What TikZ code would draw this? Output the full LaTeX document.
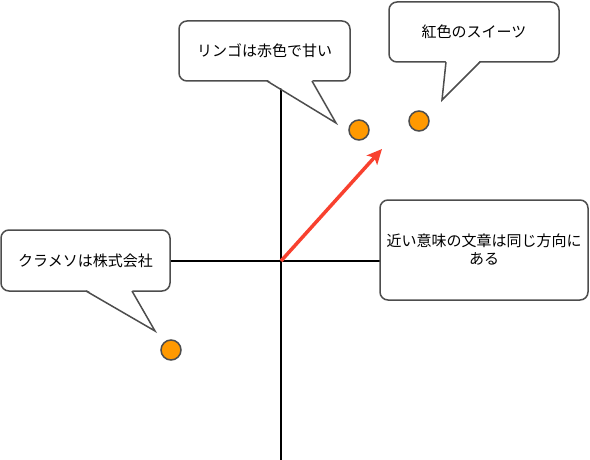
\documentclass[tikz,border=0pt]{standalone}
\usepackage{fontspec}
\setmainfont{Noto Sans CJK JP}
\usetikzlibrary{arrows.meta}
\definecolor{dotorange}{HTML}{FF9900}
\definecolor{vecred}{HTML}{F8412F}
\definecolor{edgegray}{HTML}{4D4D4D}
\tikzset{
  bubble/.style={draw=edgegray, line width=1.5pt, fill=white, rounded corners=8pt,
    align=center, inner sep=0pt, font=\fontsize{15}{18}\selectfont},
  tailfill/.style={fill=white},
  tailline/.style={draw=edgegray, line width=1.5pt},
  dot/.style={circle, draw=edgegray, fill=dotorange, line width=1.5pt,
    minimum size=20pt, inner sep=0pt},
  axis/.style={line width=2pt, black},
  vec/.style={vecred, line width=3.5pt, -{Stealth[length=15pt, width=14pt, inset=3.5pt]}}
}

\begin{document}
\begin{tikzpicture}[x=1pt, y=-1pt]
    \useasboundingbox (0,0) rectangle (590,460);

    % Axes
    \coordinate (o) at (281,261);
    \coordinate (ytop) at (281,60);
    \coordinate (ybot) at (281,460);
    \coordinate (xl) at (150,261);
    \coordinate (xr) at (400,261);
    \draw[axis] (ytop) -- (ybot);
    \draw[axis] (xl) -- (xr);

    % Vector
    \coordinate (vtip) at (382,149);
    \draw[vec] (o) -- (vtip);

    % Points
    \node[dot] (apple) at (359,130) {};
    \node[dot] (sweets) at (419,121) {};
    \node[dot] (company) at (171,350) {};

    % Callouts
    \node[bubble, minimum width=171pt, minimum height=60pt] (b1) at (264.5,51) {リンゴは赤色で甘い};
    \fill[tailfill] (267,79.5) -- (336,123) -- (312,79.5) -- cycle;
    \draw[tailline] (267,81) -- (336,123) -- (312,81);

    \node[bubble, minimum width=170pt, minimum height=60pt] (b2) at (474,32) {紅色のスイーツ};
    \fill[tailfill] (446,60.5) -- (442,100) -- (480,60.5) -- cycle;
    \draw[tailline] (446,62) -- (442,100) -- (480,62);

    \node[bubble, minimum width=169pt, minimum height=61pt] (b3) at (85.5,260.5) {クラメソは株式会社};
    \fill[tailfill] (86,289.5) -- (155,331) -- (132,289.5) -- cycle;
    \draw[tailline] (86,291) -- (155,331) -- (132,291);

    \node[bubble, minimum width=208pt, minimum height=100pt] (b4) at (484,250)
        {近い意味の文章は同じ方向に\\ある};

\end{tikzpicture}
\end{document}
